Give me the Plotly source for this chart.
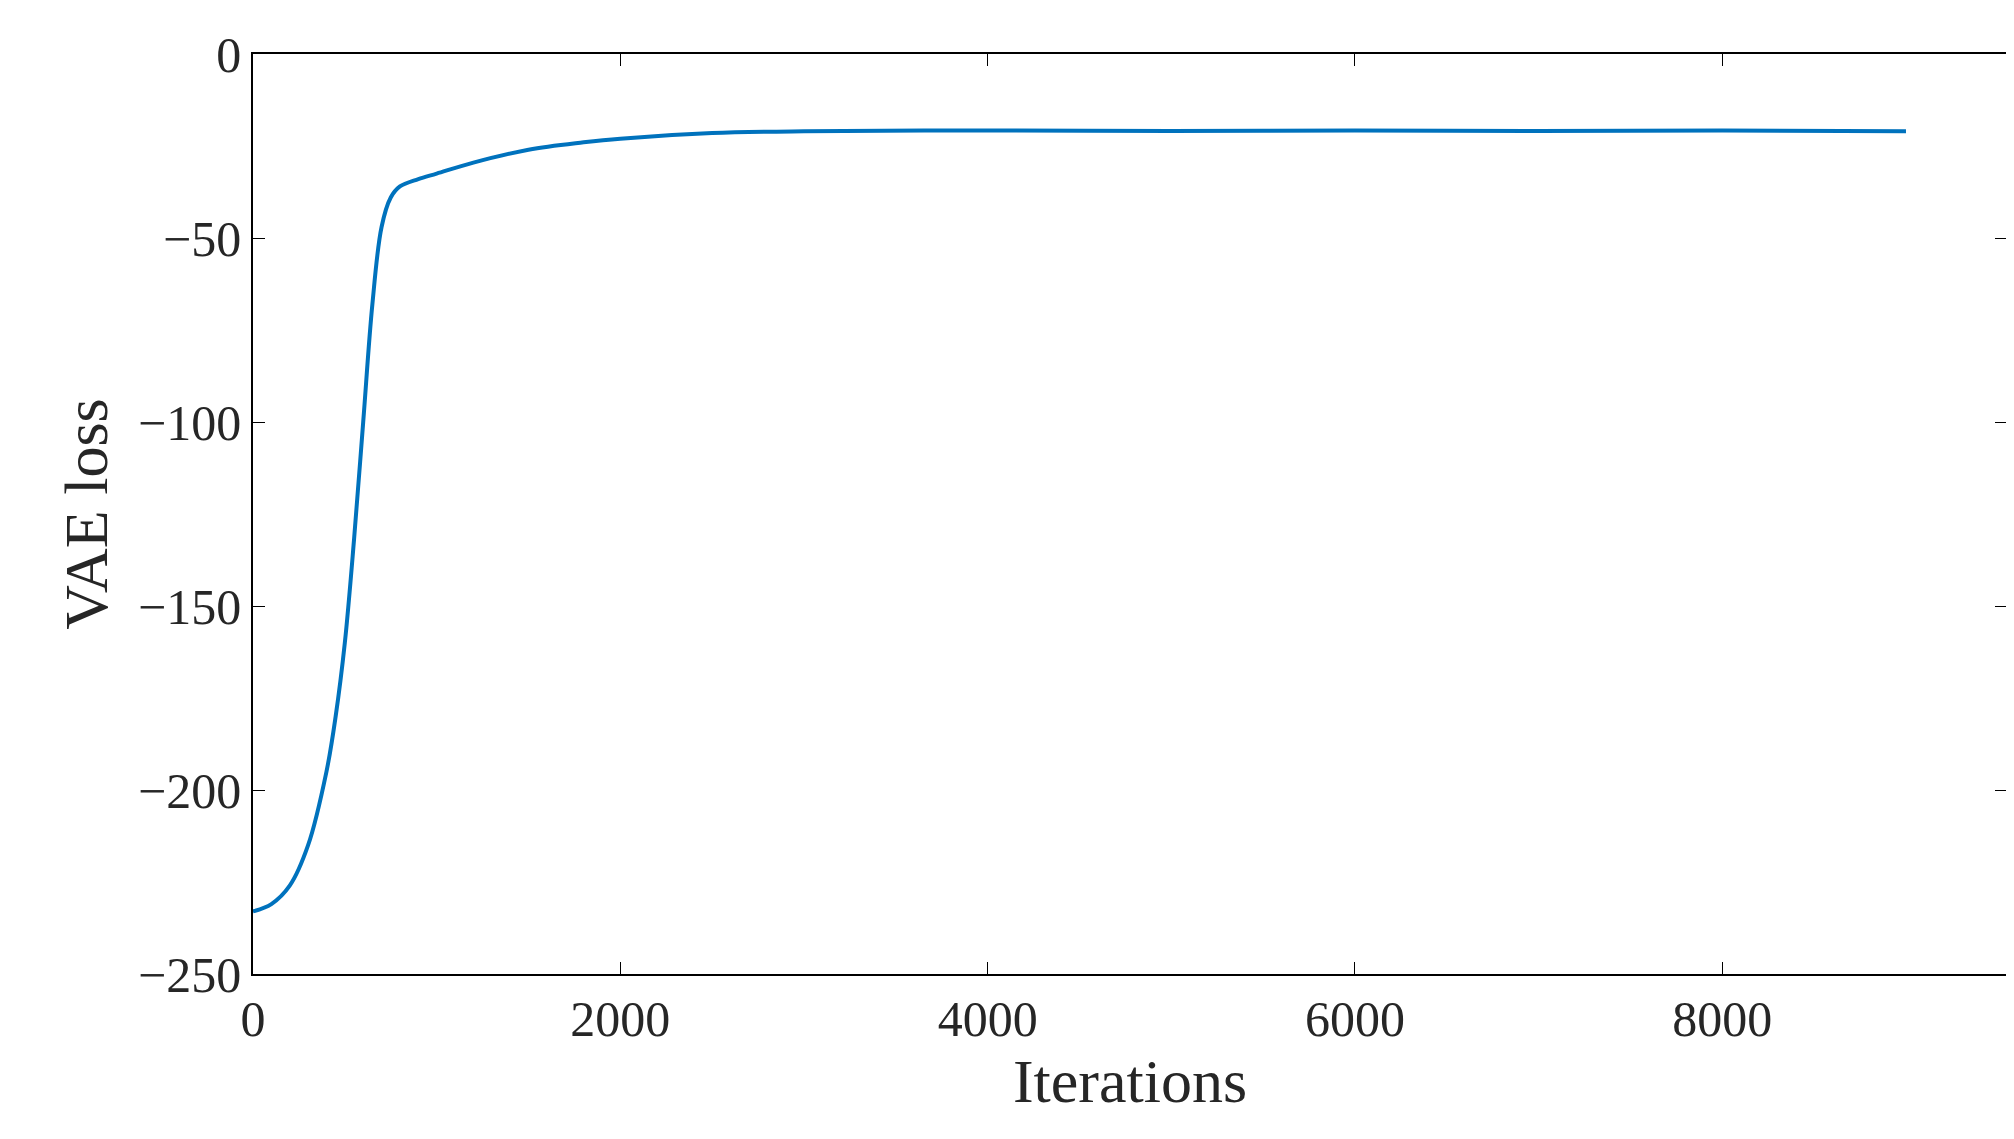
import plotly.graph_objects as go

# VAE loss curve
iterations = [0, 100, 200, 300, 400, 450, 500, 550, 600, 650, 700, 750, 800, 900,
              1000, 1200, 1500, 1800, 2000, 2500, 3000, 4000, 5000, 6000, 7000, 8000, 9000]
vae_loss = [-233, -231, -226, -215, -195, -180, -160, -132, -100, -68, -47, -39, -36, -34,
            -32.5, -29.5, -26, -24, -23, -21.5, -21, -20.8, -20.9, -20.8, -20.9, -20.8, -21]

fig = go.Figure()
fig.add_trace(go.Scatter(
    x=iterations, y=vae_loss,
    mode="lines",
    line=dict(color="#0072BD", width=4, shape="spline"),
    showlegend=False,
))

axis_common = dict(
    showgrid=False, zeroline=False, showline=True, linecolor="black", linewidth=1.5,
    mirror="ticks", ticks="inside", ticklen=12, tickcolor="black",
    tickfont=dict(size=50, color="#262626"),
)

fig.update_layout(
    width=2014, height=1139,
    plot_bgcolor="white", paper_bgcolor="white",
    font=dict(family="Liberation Serif", color="#262626"),
    margin=dict(l=245, r=15, t=46, b=173),
    xaxis=dict(range=[0, 9550], tickvals=[0, 2000, 4000, 6000, 8000],
               title=dict(text="Iterations", font=dict(size=62), standoff=0),
               **axis_common),
    yaxis=dict(range=[-250, 0], tickvals=[-250, -200, -150, -100, -50, 0],
               title=dict(text="VAE loss", font=dict(size=62), standoff=10),
               **axis_common),
)

fig.write_html("out.html")
